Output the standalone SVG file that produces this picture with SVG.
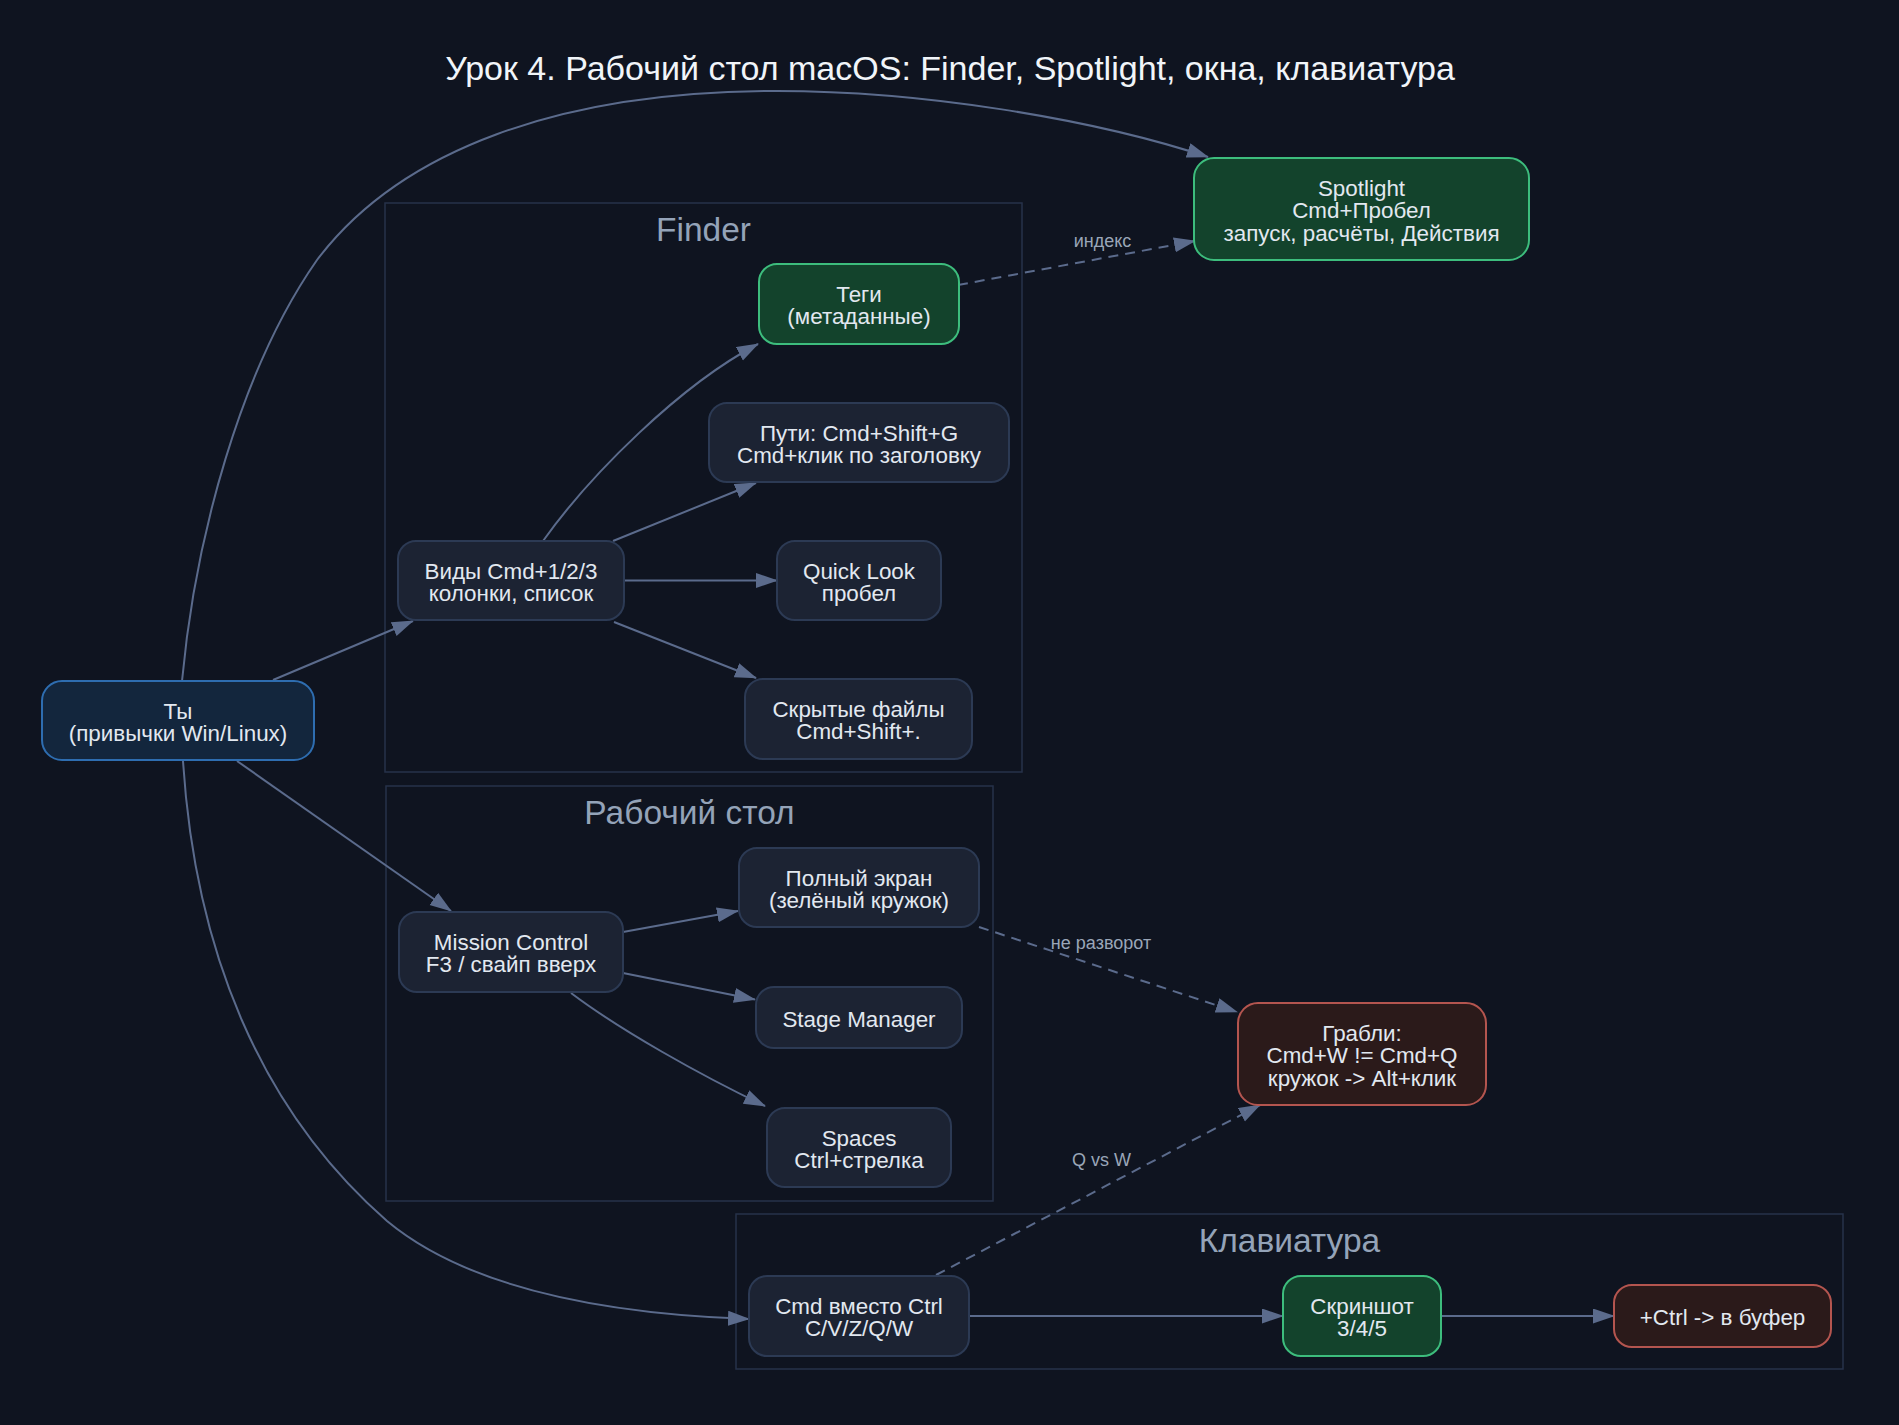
<svg xmlns="http://www.w3.org/2000/svg" width="1899" height="1425" viewBox="0 0 1899 1425">
<defs>
<style>
text{font-family:"Liberation Sans",Arial,Helvetica,sans-serif}
.title{font-size:34px;fill:#f1f5f9;text-anchor:middle}
.cl rect{fill:none;stroke:#27324a;stroke-width:1.5}
.cl text{font-size:33.5px;fill:#94a3b8;text-anchor:middle}
.n rect{fill:#1c2333;stroke:#2c3a54;stroke-width:2}
.n text{font-size:22.4px;fill:#e2e8f0;text-anchor:middle}
.g rect{fill:#13432c;stroke:#3dbd7d}
.r rect{fill:#2b1a1a;stroke:#b4554f}
.b rect{fill:#13263d;stroke:#2e6db0}
.e path{fill:none;stroke:#5b6b8c;stroke-width:2;marker-end:url(#ah)}
.e path.d{stroke-dasharray:10,7}
.e text{font-size:18px;fill:#9aa6b8;text-anchor:middle}
</style>
<marker id="ah" markerUnits="userSpaceOnUse" markerWidth="22" markerHeight="16" refX="21" refY="7.5" orient="auto">
<path d="M0,0 L22,7.5 L0,15 z" fill="#5b6b8c"/>
</marker>
</defs>
<rect x="0" y="0" width="1899" height="1425" fill="#0f1420"/>
<text class="title" x="950" y="80">Урок 4. Рабочий стол macOS: Finder, Spotlight, окна, клавиатура</text>

<g id="cluster-finder" class="cl"><rect x="385" y="203" width="637" height="569"/><text x="703.5" y="241">Finder</text></g>
<g id="cluster-desktop" class="cl"><rect x="386" y="786" width="607" height="415"/><text x="689.5" y="824">Рабочий стол</text></g>
<g id="cluster-keyboard" class="cl"><rect x="736" y="1214" width="1107" height="155"/><text x="1289.5" y="1252">Клавиатура</text></g>

<g id="edges" class="e">
<path d="M182,681 C195,540 240,370 317,260 C400,150 560,91 777,91 C920,91 1090,118 1208,157"/>
<path d="M273,680 L413,621"/>
<path d="M237,761 L451,911"/>
<path d="M183,761 C195,950 260,1110 387,1221 C470,1290 610,1314 749,1319"/>
<path d="M543,541 C590,475 680,385 758,344"/>
<path d="M613,541 L756,483"/>
<path d="M624,580.5 L777,580.5"/>
<path d="M614,622 L756,678"/>
<path d="M623,932 L738,911"/>
<path d="M623,973 L755,999.5"/>
<path d="M571,993 C620,1030 700,1075 765,1106"/>
<path class="d" d="M958,285 L1195,241"/>
<path class="d" d="M979,927 L1237,1012"/>
<path class="d" d="M936,1275 L1260,1105"/>
<path d="M969,1316 L1283,1316"/>
<path d="M1441,1316 L1614,1316"/>
<text x="1102.5" y="247">индекс</text>
<text x="1101" y="949">не разворот</text>
<text x="1101.5" y="1166">Q vs W</text>
</g>

<g id="node-ty" class="n b"><rect x="42" y="681" width="272" height="79" rx="20"/><text x="178" y="718.5">Ты</text><text x="178" y="740.8">(привычки Win/Linux)</text></g>
<g id="node-spotlight" class="n g"><rect x="1194" y="158" width="335" height="102" rx="20"/><text x="1361.5" y="195.9">Spotlight</text><text x="1361.5" y="218.2">Cmd+Пробел</text><text x="1361.5" y="240.5">запуск, расчёты, Действия</text></g>
<g id="node-tags" class="n g"><rect x="759" y="264" width="200" height="80" rx="18"/><text x="859" y="302">Теги</text><text x="859" y="324.3">(метаданные)</text></g>
<g id="node-paths" class="n"><rect x="709" y="403" width="300" height="79" rx="18"/><text x="859" y="440.5">Пути: Cmd+Shift+G</text><text x="859" y="462.8">Cmd+клик по заголовку</text></g>
<g id="node-views" class="n"><rect x="398" y="541" width="226" height="79" rx="18"/><text x="511" y="578.6">Виды Cmd+1/2/3</text><text x="511" y="600.9">колонки, список</text></g>
<g id="node-quicklook" class="n"><rect x="777" y="541" width="164" height="79" rx="18"/><text x="859" y="578.6">Quick Look</text><text x="859" y="600.9">пробел</text></g>
<g id="node-hidden" class="n"><rect x="745" y="679" width="227" height="80" rx="18"/><text x="858.5" y="717">Скрытые файлы</text><text x="858.5" y="739.3">Cmd+Shift+.</text></g>
<g id="node-mission" class="n"><rect x="399" y="912" width="224" height="80" rx="18"/><text x="511" y="950">Mission Control</text><text x="511" y="972.3">F3 / свайп вверх</text></g>
<g id="node-fullscreen" class="n"><rect x="739" y="848" width="240" height="79" rx="18"/><text x="859" y="885.5">Полный экран</text><text x="859" y="907.8">(зелёный кружок)</text></g>
<g id="node-stage" class="n"><rect x="756" y="987" width="206" height="61" rx="18"/><text x="859" y="1026.7">Stage Manager</text></g>
<g id="node-spaces" class="n"><rect x="767" y="1108" width="184" height="79" rx="18"/><text x="859" y="1145.5">Spaces</text><text x="859" y="1167.8">Ctrl+стрелка</text></g>
<g id="node-grabli" class="n r"><rect x="1238" y="1003" width="248" height="102" rx="20"/><text x="1362" y="1040.9">Грабли:</text><text x="1362" y="1063.2">Cmd+W != Cmd+Q</text><text x="1362" y="1085.5">кружок -&gt; Alt+клик</text></g>
<g id="node-cmd" class="n"><rect x="749" y="1276" width="220" height="80" rx="18"/><text x="859" y="1314">Cmd вместо Ctrl</text><text x="859" y="1336.3">C/V/Z/Q/W</text></g>
<g id="node-screenshot" class="n g"><rect x="1283" y="1276" width="158" height="80" rx="18"/><text x="1362" y="1314">Скриншот</text><text x="1362" y="1336.3">3/4/5</text></g>
<g id="node-ctrlbuf" class="n r"><rect x="1614" y="1285" width="217" height="62" rx="18"/><text x="1722.5" y="1325.2">+Ctrl -&gt; в буфер</text></g>
</svg>
